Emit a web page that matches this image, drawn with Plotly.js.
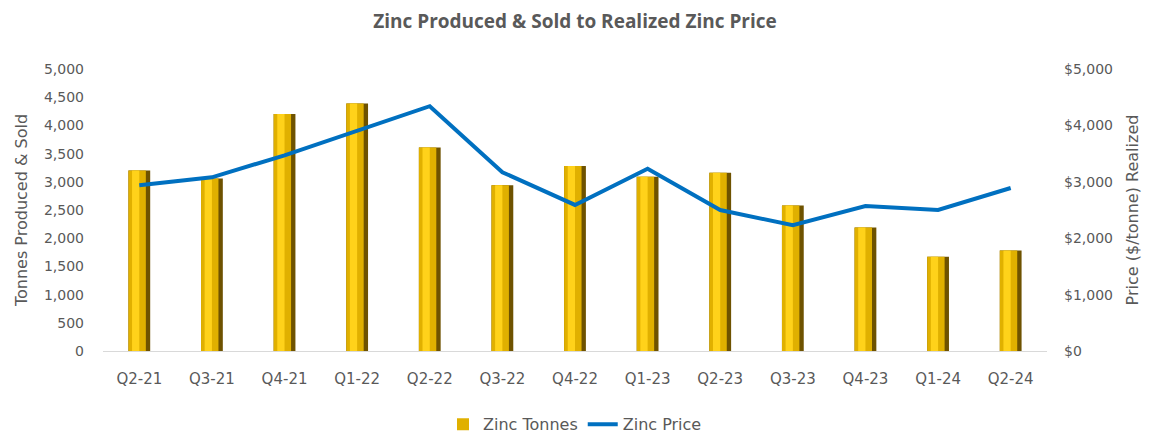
<!DOCTYPE html>
<html><head><meta charset="utf-8">
<script src="https://cdn.plot.ly/plotly-3.0.1.min.js"></script>
<style>html,body{margin:0;padding:0;background:#fff}#chart{width:1150px;height:433px}</style>
</head><body><div id="chart"></div>
<script>
const quarters = ["Q2-21","Q3-21","Q4-21","Q1-22","Q2-22","Q3-22","Q4-22","Q1-23","Q2-23","Q3-23","Q4-23","Q1-24","Q2-24"];
const zincTonnes = [3200,3060,4200,4390,3610,2940,3280,3090,3160,2580,2190,1670,1780];
const zincPrice = [2940,3080,3470,3900,4340,3170,2590,3230,2500,2230,2570,2500,2890];

const font = "'DejaVu Sans', sans-serif";
const grey = '#595959';

const traces = [
  {type:'bar', x:quarters, y:zincTonnes, name:'Zinc Tonnes', width:0.3, offset:-0.15,
   marker:{color:'#6E5200', line:{width:0}}, showlegend:false, hoverinfo:'skip'},
  {type:'bar', x:quarters, y:zincTonnes, name:'Zinc Tonnes', width:0.24, offset:-0.15,
   marker:{color:'#E0B000', line:{width:0}}, showlegend:true},
  {type:'bar', x:quarters, y:zincTonnes, name:'Zinc Tonnes', width:0.1, offset:-0.1,
   marker:{color:'#FFD21A', line:{width:0}}, showlegend:false, hoverinfo:'skip'},
  {type:'scatter', mode:'lines', x:quarters, y:zincPrice, name:'Zinc Price', yaxis:'y2',
   line:{color:'#0070C0', width:4}}
];

const layout = {
  width:1150, height:433,
  paper_bgcolor:'#fff', plot_bgcolor:'#fff',
  margin:{l:103, r:103, t:69, b:82, autoexpand:false},
  barmode:'overlay',
  title:{text:'<b>Zinc Produced & Sold to Realized Zinc Price</b>', x:0.5, xanchor:'center', yref:'container', y:0.95, yanchor:'middle',
         font:{family:"'Open Sans', sans-serif", size:19, color:grey}},
  font:{family:font, size:14, color:grey},
  xaxis:{type:'category', showgrid:false, showline:true, linecolor:'#D9D9D9', linewidth:1,
         ticks:'', tickfont:{size:15, color:grey}, zeroline:false, ticklabelstandoff:14},
  yaxis:{range:[0,5000], dtick:500, tickformat:',d', showgrid:false, zeroline:false, showline:false,
         tickfont:{size:14, color:grey}, ticklabelstandoff:18,
         title:{text:'Tonnes Produced & Sold', font:{size:16, color:grey}, standoff:12}},
  yaxis2:{overlaying:'y', side:'right', range:[0,5000], dtick:1000, tickprefix:'$', tickformat:',d',
         showgrid:false, zeroline:false, showline:false, tickfont:{size:14, color:grey}, ticklabelstandoff:16,
         title:{text:'Price ($/tonne) Realized', font:{size:16, color:grey}, standoff:14}},
  legend:{orientation:'h', x:0.5, xanchor:'center', yref:'container', y:0.02, yanchor:'middle',
          font:{size:16, color:grey}, traceorder:'normal'},
  showlegend:true
};
Plotly.newPlot('chart', traces, layout, {displayModeBar:false, staticPlot:true});
</script></body></html>
